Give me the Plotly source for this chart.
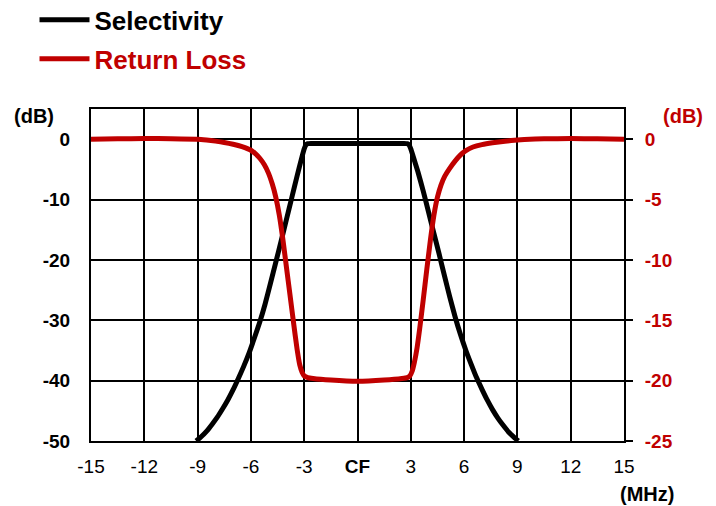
import plotly.graph_objects as go

# Selectivity (left axis, dB)
sel_x = [-9.08, -8.8, -8.5, -8.2, -7.9, -7.6, -7.3, -7.0, -6.7, -6.4, -6.1, -5.8, -5.5, -5.2, -4.9, -4.6,
         -4.3, -4.0, -3.7, -3.4, -3.15, -3.0, -2.9, -2.8, -2.6, -1.5, 0, 1.5, 2.6,
         2.8, 2.9, 3.0, 3.15, 3.4, 3.7, 4.0, 4.3, 4.6, 4.9, 5.2, 5.5, 5.8, 6.1, 6.4, 6.7, 7.0, 7.3,
         7.6, 7.9, 8.2, 8.5, 8.8, 9.05]
sel_y = [-50, -49.3, -48.4, -47.3, -46.1, -44.7, -43.2, -41.5, -39.6, -37.6, -35.4, -32.9, -30.3, -27.3, -23.9, -20.4,
         -16.9, -13.3, -9.7, -6.1, -3.2, -1.6, -0.95, -0.75, -0.7, -0.7, -0.7, -0.7, -0.7,
         -0.75, -0.95, -1.6, -3.0, -5.4, -8.6, -12.1, -15.6, -19.1, -22.7, -26.2, -29.5, -32.4, -35.0, -37.3, -39.5, -41.4, -43.2,
         -44.8, -46.2, -47.4, -48.5, -49.35, -50]

# Return loss (right axis, dB)
rl_x = [-15, -13.5, -12, -10.5, -9.0, -8.5, -8.0, -7.5, -7.0, -6.5, -6.0, -5.75, -5.5, -5.25, -5.0, -4.8,
        -4.6, -4.4, -4.2, -4.0, -3.8, -3.6, -3.4, -3.25, -3.12, -3.0, -2.8, -2.5, -1.5, 0, 1.5, 2.5,
        2.8, 2.95, 3.08, 3.2, 3.35, 3.5, 3.7, 3.9, 4.1, 4.3, 4.5, 4.7, 4.9, 5.2, 5.5, 5.8, 6.1, 6.5,
        7.0, 7.6, 8.3, 9.0, 9.7, 10.5, 12, 13.5, 15]
rl_y = [0, 0.03, 0.05, 0.04, 0, -0.07, -0.16, -0.27, -0.42, -0.62, -0.92, -1.2, -1.58, -2.1, -2.85, -3.7,
        -4.8, -6.3, -8.3, -10.6, -12.9, -15.2, -17.4, -18.7, -19.3, -19.6, -19.75, -19.82, -19.95, -20.05, -19.95, -19.82,
        -19.75, -19.6, -19.2, -18.5, -17.3, -15.7, -13.3, -10.8, -8.4, -6.3, -4.8, -3.8, -3.1, -2.4, -1.8, -1.3, -0.95, -0.65,
        -0.45, -0.3, -0.17, -0.07, 0, 0.03, 0.05, 0.03, 0]

x_ticks = [-15, -12, -9, -6, -3, 0, 3, 6, 9, 12, 15]
x_labels = ["-15", "-12", "-9", "-6", "-3", "<b>CF</b>", "3", "6", "9", "12", "15"]
left_ticks = [0, -10, -20, -30, -40, -50]
left_labels = ["0", "-10", "-20", "-30", "-40", "-50"]
right_ticks = [0, -5, -10, -15, -20, -25]
right_labels = ["0", "-5", "-10", "-15", "-20", "-25"]

RED = "#c00000"
FONT = "Liberation Sans, Arial, sans-serif"

fig = go.Figure()
fig.add_trace(go.Scatter(x=sel_x, y=sel_y, mode="lines", name="Selectivity", legendgroup="a",
                         line=dict(color="black", width=5, shape="spline", smoothing=0.5), yaxis="y"))
fig.add_trace(go.Scatter(x=rl_x, y=rl_y, mode="lines", name=f"<span style='color:{RED}'>Return Loss</span>",
                         legendgroup="b",
                         line=dict(color=RED, width=5, shape="spline", smoothing=0.5), yaxis="y2"))

fig.update_layout(
    width=716, height=506,
    margin=dict(l=91, r=92, t=109, b=65, autoexpand=False),
    paper_bgcolor="white", plot_bgcolor="white",
    font=dict(family=FONT, color="black"),
    showlegend=True,
    legend=dict(x=-0.106, y=1.339, xanchor="left", yanchor="top", orientation="v",
                traceorder="grouped", tracegroupgap=2, itemwidth=50,
                font=dict(family=FONT, size=26, color="black", weight="bold"),
                bgcolor="rgba(0,0,0,0)"),
    xaxis=dict(range=[-15, 15], tickvals=x_ticks, ticktext=x_labels, showgrid=True,
               gridcolor="black", gridwidth=2, showline=True, linecolor="black", linewidth=2,
               mirror=True, zeroline=False, ticks="", ticklabelstandoff=7,
               tickfont=dict(family=FONT, size=19, color="black")),
    yaxis=dict(range=[-50, 5], tickvals=left_ticks, ticktext=left_labels, showgrid=True,
               gridcolor="black", gridwidth=2,
               showline=True, linecolor="black", linewidth=2, zeroline=False, ticks="",
               ticklabelstandoff=15,
               tickfont=dict(family=FONT, size=19, color="black", weight="bold")),
    yaxis2=dict(range=[-25, 2.5], tickvals=right_ticks, ticktext=right_labels, overlaying="y",
                side="right", showgrid=False,
                showline=True, linecolor="black", linewidth=2, zeroline=False,
                ticks="outside", ticklen=7, tickwidth=2, tickcolor="black", ticklabelstandoff=8,
                tickfont=dict(family=FONT, size=19, color=RED, weight="bold")),
    annotations=[
        dict(text="<b>(dB)</b>", x=-0.107, y=0.979, xref="paper", yref="paper", showarrow=False,
             xanchor="center", yanchor="middle",
             font=dict(family=FONT, size=20, color="black")),
        dict(text="<b>(dB)</b>", x=1.1098, y=0.979, xref="paper", yref="paper", showarrow=False,
             xanchor="center", yanchor="middle",
             font=dict(family=FONT, size=20, color=RED)),
        dict(text="<b>(MHz)</b>", x=1.043, y=-0.16, xref="paper", yref="paper", showarrow=False,
             xanchor="center", yanchor="middle",
             font=dict(family=FONT, size=20, color="black")),
    ],
)

fig.write_html("out.html", config={"displayModeBar": False},
               post_script="document.body.style.margin='0px';")
